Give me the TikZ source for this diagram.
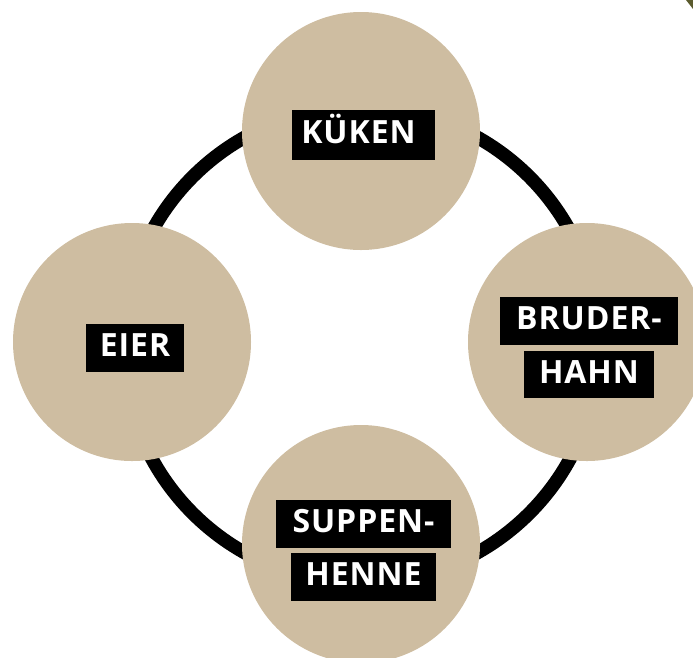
\documentclass[tikz,border=0pt]{standalone}
\usepackage{fontspec}
\setmainfont{Open Sans}
\newfontfamily\lblfont{Open Sans}[LetterSpace=3]
\definecolor{beige}{HTML}{CEBDA1}
\definecolor{darkolive}{HTML}{5B5B2E}
\tikzset{
  bub/.style={circle, fill=beige, minimum size=238pt, inner sep=0pt},
  lbl/.style={fill=black, text=white, inner sep=0pt, font=\lblfont\bfseries\fontsize{32pt}{32pt}\selectfont,
              text height=23pt, text depth=6pt, align=center},
  ring/.style={line width=13.5pt, draw=black}
}
\begin{document}
\begin{tikzpicture}[x=1pt,y=-1pt]
\useasboundingbox (0,0) rectangle (693,657);
\clip (0,0) rectangle (693,657);
\fill[darkolive] (686,0) -- (693,0) -- (693,9) -- cycle;
\coordinate (mid) at (361,345);
\draw[ring] (mid) circle (238pt);
\node[bub] (kueken) at (361,131) {};
\node[bub] (eier) at (132,342) {};
\node[bub] (bruder) at (587,342) {};
\node[bub] (suppen) at (361,544) {};
\node[lbl, minimum width=143pt, minimum height=50pt] (tK) at (363.5,135) {KÜKEN\kern10pt};
\node[lbl, minimum width=98pt, minimum height=48pt] (tE) at (135,348) {EIER};
\node[lbl, minimum width=178pt, minimum height=48pt] (tB1) at (589,321) {BRUDER-};
\node[lbl, minimum width=130pt, minimum height=47pt] (tB2) at (589,374.5) {HAHN};
\node[lbl, minimum width=175pt, minimum height=48pt] (tS1) at (363.5,524) {SUPPEN-};
\node[lbl, minimum width=145pt, minimum height=48pt] (tS2) at (363.5,577) {HENNE};
\end{tikzpicture}
\end{document}
